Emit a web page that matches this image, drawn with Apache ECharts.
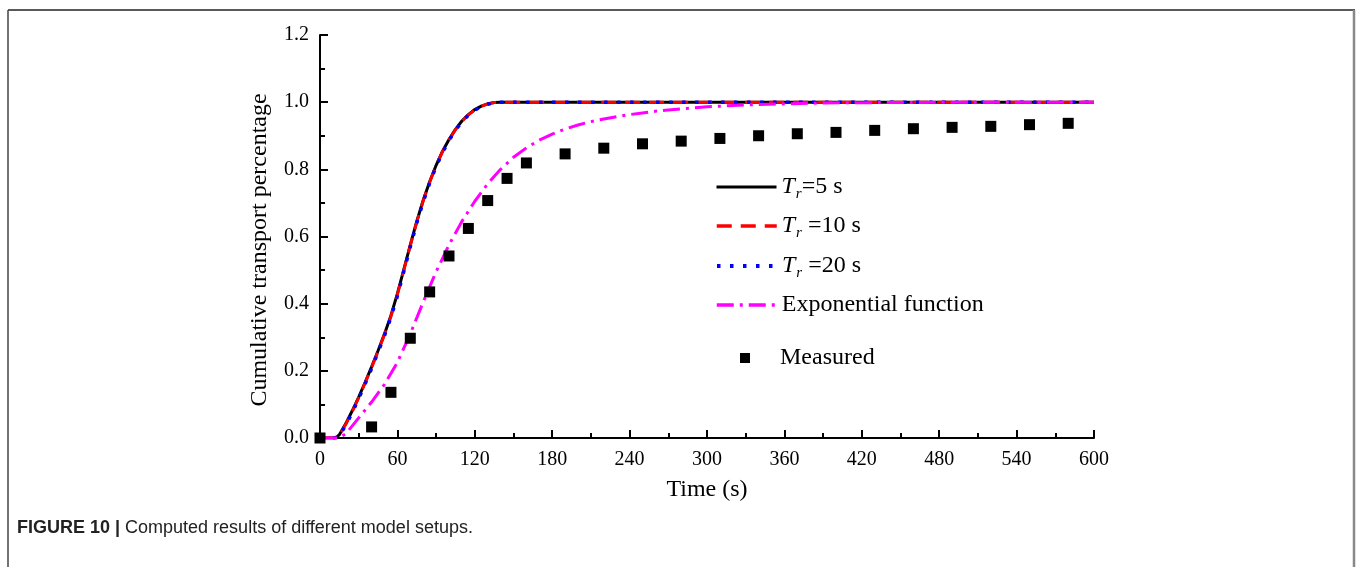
<!DOCTYPE html>
<html>
<head>
<meta charset="utf-8">
<script src="https://cdn.jsdelivr.net/npm/echarts@6/dist/echarts.min.js"></script>
<style>
html,body{margin:0;padding:0;background:#fff;}
#chart{width:1362px;height:567px;}
</style>
</head>
<body>
<div id="chart"></div>
<script>
// ---- data ----
var tModel = [0,10,13,15,20,25,30,35,40,45,50,55,60,65,70,75,80,85,90,95,100,105,110,115,120,125,130,135,140,160,200,300,400,500,600];
var tr5  = [0,0,0.003,0.01,0.043,0.081,0.122,0.166,0.212,0.26,0.31,0.365,0.43,0.502,0.575,0.645,0.708,0.763,0.812,0.854,0.889,0.919,0.944,0.963,0.978,0.988,0.995,0.999,1,1,1,1,1,1,1];
var tr10 = [0,0,0.002,0.008,0.041,0.079,0.12,0.164,0.21,0.258,0.308,0.362,0.427,0.5,0.573,0.643,0.706,0.762,0.811,0.853,0.888,0.918,0.943,0.962,0.977,0.988,0.995,0.999,1,1,1,1,1,1,1];
var tr20 = [0,0,0.001,0.006,0.038,0.076,0.117,0.161,0.207,0.255,0.305,0.359,0.423,0.496,0.569,0.64,0.703,0.759,0.808,0.85,0.886,0.916,0.941,0.961,0.976,0.987,0.994,0.998,1,1,1,1,1,1,1];
var tExp = [0,10,14,20,30,40,50,60,70,80,90,100,110,120,130,140,150,160,170,180,190,200,210,220,230,240,250,260,270,280,290,300,320,340,360,380,400,450,500,600];
var expFn = [0,0,0,0.012,0.06,0.107,0.16,0.225,0.31,0.405,0.495,0.575,0.645,0.705,0.757,0.8,0.836,0.864,0.887,0.905,0.92,0.932,0.942,0.95,0.957,0.963,0.968,0.973,0.977,0.98,0.983,0.986,0.99,0.993,0.995,0.997,0.998,0.999,1,1];
var tMeas = [0,40,55,70,85,100,115,130,145,160,190,220,250,280,310,340,370,400,430,460,490,520,550,580];
var measured = [0,0.033,0.136,0.297,0.435,0.542,0.624,0.707,0.773,0.819,0.846,0.863,0.876,0.884,0.892,0.900,0.906,0.910,0.916,0.921,0.925,0.928,0.933,0.937];
var seriesNames = ['Tr=5 s','Tr=10 s','Tr=20 s','Exponential function','Measured'];
var xTitle = 'Time (s)';
var yTitle = 'Cumulative transport percentage';
var captionBold = 'FIGURE 10 |';
var captionText = ' Computed results of different model setups.';

function pairs(xs, ys){ return xs.map(function(x,i){ return [x, ys[i]]; }); }

var SERIF = '"Liberation Serif","Times New Roman",serif';
var SANS = '"Liberation Sans",Arial,Helvetica,sans-serif';
var chart = echarts.init(document.getElementById('chart'), null, {renderer:'canvas'});

var legendRich = {
  i:{fontFamily:SERIF,fontStyle:'italic',fontSize:24,color:'#000'},
  s:{fontFamily:SERIF,fontStyle:'italic',fontSize:15,color:'#000',padding:[14,0,0,1]},
  n:{fontFamily:SERIF,fontSize:24,color:'#000'},
  g:{width:25}
};
function legendFmt(name){
  if(name==='Tr=5 s') return '{i|T}{s|r}{n|=5 s}';
  if(name==='Tr=10 s') return '{i|T}{s|r}{n| =10 s}';
  if(name==='Tr=20 s') return '{i|T}{s|r}{n| =20 s}';
  if(name==='Measured') return '{g|}{n|Measured}';
  return '{n|'+name+'}';
}
var legendTops = [175,214,254,293,346];
var legendLineW = [3,3.5,4,3.5];
var legends = seriesNames.map(function(nm, k){
  var isScatter = (k===4);
  var lg = {
    data:[nm], left: isScatter ? 740 : 715, top:legendTops[k], orient:'vertical', padding:0,
    itemWidth: isScatter ? 10 : 60, itemHeight: isScatter ? 10 : 14, itemGap:0,
    selectedMode:false,
    itemStyle: isScatter ? {} : {opacity:0},
    formatter: legendFmt,
    textStyle:{fontFamily:SERIF,fontSize:24,color:'#000',rich:legendRich}
  };
  if(!isScatter){ lg.lineStyle = {width: legendLineW[k]}; }
  return lg;
});

var option = {
  backgroundColor:'#fff',
  animation:false,
  legend: legends,
  grid:{left:320,right:268,top:35,bottom:129,containLabel:false},
  xAxis:{
    type:'value',min:0,max:600,interval:60,
    name:xTitle,nameLocation:'middle',nameGap:40,
    nameTextStyle:{fontFamily:SERIF,fontSize:24,color:'#000'},
    axisLine:{show:true,onZero:false,lineStyle:{color:'#000',width:2}},
    axisTick:{show:true,inside:true,length:8,lineStyle:{color:'#000',width:2}},
    minorTick:{show:true,splitNumber:2,length:5,lineStyle:{color:'#000',width:2}},
    axisLabel:{fontFamily:SERIF,fontSize:20,color:'#000',margin:12},
    splitLine:{show:false}
  },
  yAxis:{
    type:'value',min:0,max:1.2,interval:0.2,
    name:yTitle,nameLocation:'middle',nameGap:48,nameRotate:90,
    nameTextStyle:{fontFamily:SERIF,fontSize:24,color:'#000',padding:[0,27,0,0]},
    axisLine:{show:true,onZero:false,lineStyle:{color:'#000',width:2}},
    axisTick:{show:true,inside:true,length:8,lineStyle:{color:'#000',width:2}},
    minorTick:{show:true,splitNumber:2,length:5,lineStyle:{color:'#000',width:2}},
    axisLabel:{fontFamily:SERIF,fontSize:20,color:'#000',margin:11,formatter:function(v){return v.toFixed(1);}},
    splitLine:{show:false}
  },
  series:[
    {name:seriesNames[0],type:'line',data:pairs(tModel,tr5),symbol:'none',smooth:false,
      lineStyle:{color:'#000',width:3,type:'solid'},itemStyle:{color:'#000'},z:2},
    {name:seriesNames[1],type:'line',data:pairs(tModel,tr10),symbol:'none',smooth:false,
      lineStyle:{color:'#ff0000',width:3,type:[15,9]},itemStyle:{color:'#ff0000'},z:3},
    {name:seriesNames[2],type:'line',data:pairs(tModel,tr20),symbol:'none',smooth:false,
      lineStyle:{color:'#0000ff',width:3.5,type:[3.5,9.5]},itemStyle:{color:'#0000ff'},z:4},
    {name:seriesNames[3],type:'line',data:pairs(tExp,expFn),symbol:'none',smooth:false,
      lineStyle:{color:'#ff00ff',width:3,type:[17,6,3,6]},itemStyle:{color:'#ff00ff'},z:5},
    {name:seriesNames[4],type:'scatter',data:pairs(tMeas,measured),symbol:'rect',symbolSize:11,
      itemStyle:{color:'#000',opacity:1},z:6}
  ],
  graphic:[
    {type:'line',shape:{x1:8,y1:10,x2:1355,y2:10},style:{stroke:'#222',lineWidth:1.5},silent:true},
    {type:'line',shape:{x1:8,y1:10,x2:8,y2:567},style:{stroke:'#444',lineWidth:1.5},silent:true},
    {type:'line',shape:{x1:1354,y1:10,x2:1354,y2:567},style:{stroke:'#888',lineWidth:2.5},silent:true},
    {type:'text',left:17,top:519,silent:true,
      style:{text:'{b|'+captionBold+'}{r|'+captionText+'}',
        rich:{b:{fontFamily:SANS,fontWeight:'bold',fontSize:18,fill:'#222'},
              r:{fontFamily:SANS,fontSize:18,fill:'#222'}}}}
  ]
};
chart.setOption(option);
</script>
</body>
</html>
